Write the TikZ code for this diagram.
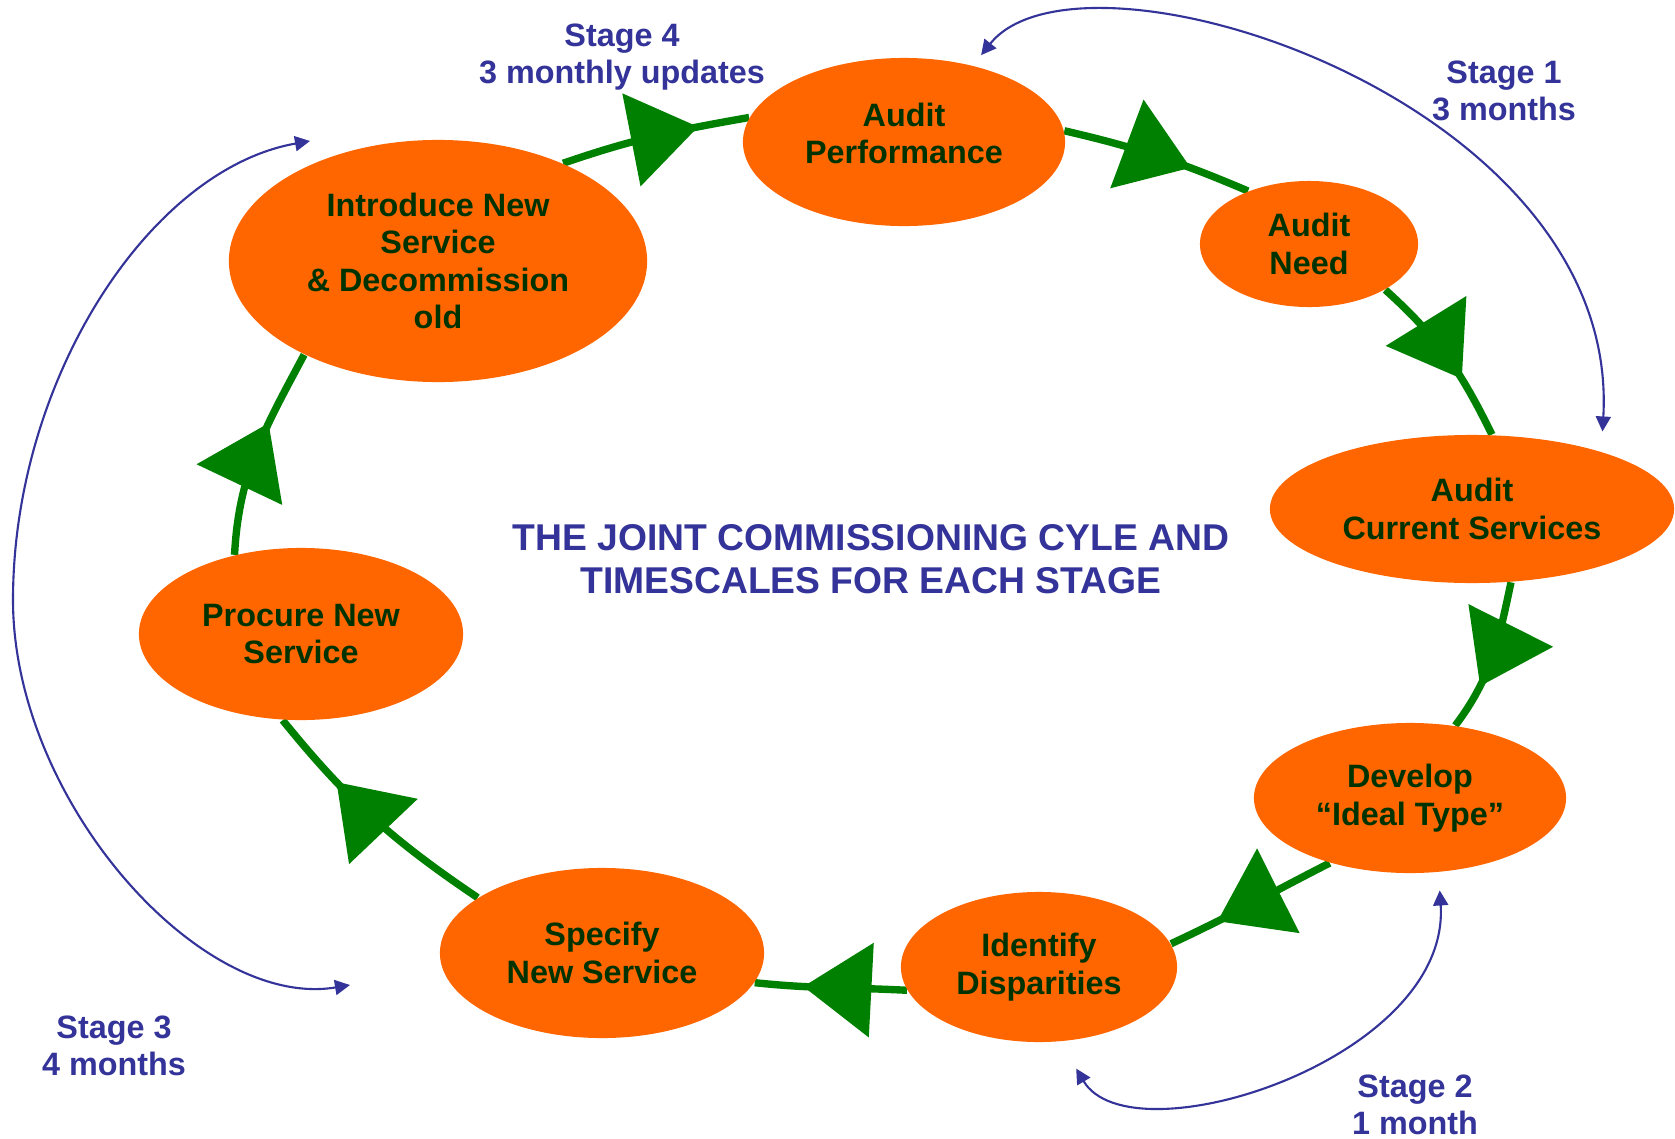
\documentclass[tikz,border=0pt]{standalone}
\usepackage{fontspec}
\setmainfont{Liberation Sans}
\definecolor{cyorange}{RGB}{255,102,0}
\definecolor{cygreen}{RGB}{0,128,0}
\definecolor{cytext}{RGB}{0,51,0}
\definecolor{cyblue}{RGB}{51,51,153}
\usetikzlibrary{arrows.meta,shapes.geometric,decorations.markings,backgrounds}

\begin{document}
\begin{tikzpicture}[x=0.01cm,y=0.01cm,
  stagebox/.style={ellipse,fill=cyorange,inner sep=0pt,text=cytext,
    font=\fontsize{9.2}{10.6}\selectfont\bfseries,align=center},
  stagenote/.style={text=cyblue,font=\fontsize{9.2}{10.6}\selectfont\bfseries,align=center},
  cyflow/.style={cygreen,line width=2.1pt,postaction={decorate},
    decoration={markings,mark=at position #1 with {\arrow{Triangle[length=6.8mm,width=9.3mm]}}}},
  spanarc/.style={cyblue,line width=0.6pt,
    {Triangle[length=1.5mm,width=1.5mm]}-{Triangle[length=1.5mm,width=1.5mm]}}
]
  \useasboundingbox (0,0) rectangle (1675,-1139);
  % Cycle stages
  \node[stagebox,minimum width=4.18cm,minimum height=2.42cm] (intro) at (438,-261)
    {Introduce New\\Service\\\& Decommission\\old};
  \node[stagebox,minimum width=3.22cm,minimum height=1.68cm,text depth=4.8pt] (perf) at (904,-142) {Audit\\Performance};
  \node[stagebox,minimum width=2.18cm,minimum height=1.26cm] (need) at (1309,-244) {Audit\\Need};
  \node[stagebox,minimum width=4.04cm,minimum height=1.48cm] (current) at (1472,-509) {Audit\\Current Services};
  \node[stagebox,minimum width=3.12cm,minimum height=1.50cm] (develop) at (1410,-798) {Develop\\“Ideal Type”};
  \node[stagebox,minimum width=2.76cm,minimum height=1.50cm] (identify) at (1039,-967) {Identify\\Disparities};
  \node[stagebox,minimum width=3.24cm,minimum height=1.70cm] (specify) at (602,-953) {Specify\\New Service};
  \node[stagebox,minimum width=3.24cm,minimum height=1.72cm] (procure) at (301,-634) {Procure New\\Service};
  % Title
  \node[text=cyblue,font=\fontsize{10.6}{12.2}\selectfont\bfseries,align=center] (title) at (871,-559)
    {THE JOINT COMMISSIONING CYLE AND\\TIMESCALES FOR EACH STAGE};
  % Stage labels
  \node[stagenote] (st4) at (622,-57) {Stage 4\\3 monthly updates};
  \node[stagenote] (st1) at (1504,-91) {Stage 1\\3 months};
  \node[stagenote] (st2) at (1415,-1105) {Stage 2\\1 month};
  \node[stagenote] (st3) at (114,-1046) {Stage 3\\4 months};
  % Cycle connectors
  \begin{pgfonlayer}{background}
    \draw[cyflow=0.73] (intro.38) to[out=19,in=190] (perf.171);
    \draw[cyflow=0.68] (perf.4) to[out=-13,in=157] (need.139);
    \draw[cyflow=0.65] (need.329) to[out=-42,in=116] (current.75);
    \draw[cyflow=0.70] (current.298) to[out=258,in=53] (develop.58);
    \draw[cyflow=0.71] (develop.219) to[out=207,in=25] (identify.10);
    \draw[cyflow=0.68] (identify.190) to[out=177,in=-6] (specify.349);
    \draw[cyflow=0.69] (specify.156) to[out=146,in=-51] (procure.258);
    \draw[cyflow=0.64] (procure.130) to[out=87,in=242] (intro.215);
  \end{pgfonlayer}
  % Stage spans
  \draw[spanarc,shorten <=0.13cm,shorten >=0.2cm] (perf.48)
    to[out=51.5,in=86.7,out distance=1.74cm,in distance=3.53cm] (current.24);
  \draw[spanarc,shorten <=0.31cm,shorten >=0.18cm] (identify.286)
    to[out=-59.5,in=-86.3,out distance=1.38cm,in distance=1.88cm] (develop.291);
  \coordinate (s3a) at (350,-985);
  \coordinate (s3mid) at (13,-600);
  \coordinate (s3b) at (310,-141);
  \draw[spanarc] (s3a) to[out=189.5,in=270,out distance=1.52cm,in distance=2cm] (s3mid)
    to[out=90,in=190,out distance=2.2cm,in distance=1.63cm] (s3b);
\end{tikzpicture}
\end{document}
